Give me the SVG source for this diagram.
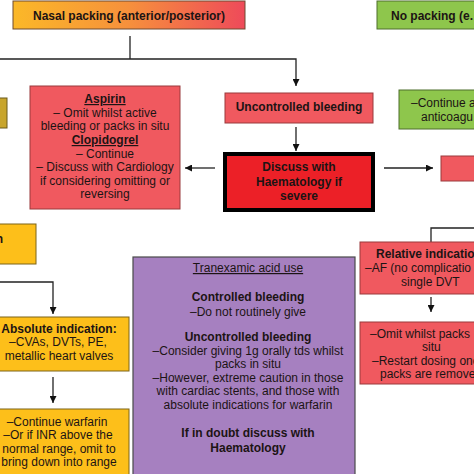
<svg xmlns="http://www.w3.org/2000/svg" width="474" height="474" viewBox="0 0 474 474">
<defs>
<linearGradient id="gNasal" x1="0" y1="0" x2="1" y2="0">
<stop offset="0" stop-color="#fbb828"/>
<stop offset="0.5" stop-color="#f6903c"/>
<stop offset="1" stop-color="#ee4a5a"/>
</linearGradient>
<marker id="ah" viewBox="0 0 10 10" refX="10" refY="5" markerWidth="7" markerHeight="7" markerUnits="userSpaceOnUse" orient="auto">
<path d="M0,0 L10,5 L0,10 z" fill="#111"/>
</marker>
<style>
text{font-family:"Liberation Sans",Arial,sans-serif;font-size:12px;fill:#1c1414}
.b{font-weight:bold}
.u{text-decoration:underline}
.c{text-anchor:middle}
.red{fill:#f0595f;stroke:#9a3a3c;stroke-width:1}
.grn{fill:#8ec64c;stroke:#4f6e2c;stroke-width:1}
.yel{fill:#fdbf1a;stroke:#7d6419;stroke-width:1}
.conn line,.conn polyline{stroke:#222;stroke-width:1.3;fill:none}
</style>
</defs>
<rect width="474" height="474" fill="#fff"/>

<g class="conn" id="connectors">
<line x1="130" y1="36" x2="130" y2="59"/>
<polyline points="0,59 296,59 296,86" marker-end="url(#ah)"/>
<line x1="296" y1="127" x2="296" y2="151" marker-end="url(#ah)"/>
<line x1="215" y1="168" x2="185" y2="168" marker-end="url(#ah)"/>
<line x1="384" y1="168" x2="433" y2="168" marker-end="url(#ah)"/>
<polyline points="0,282 53,282 53,314" marker-end="url(#ah)"/>
<line x1="53" y1="377" x2="53" y2="403" marker-end="url(#ah)"/>
<polyline points="474,228 431,228 431,242"/>
<line x1="431" y1="297" x2="431" y2="312" marker-end="url(#ah)"/>
</g>

<g id="nasal">
<rect x="13" y="1" width="232" height="28" fill="url(#gNasal)" stroke="#6e4a30" stroke-width="1"/>
<text class="b c" x="129" y="19.5">Nasal packing (anterior/posterior)</text>
</g>

<g id="nopacking">
<rect class="grn" x="377" y="1" width="110" height="28"/>
<text class="b" x="391" y="19.5">No packing (e.</text>
</g>

<g id="olive">
<rect x="-5" y="98" width="12" height="30" fill="#c8a52c" stroke="#6b5a1a" stroke-width="1"/>
</g>

<g id="antiplatelet">
<rect class="red" x="30" y="86" width="150" height="123"/>
<text class="b u c" x="105" y="103">Aspirin</text>
<text class="c" x="105" y="116.5">– Omit whilst active</text>
<text class="c" x="105" y="130">bleeding or packs in situ</text>
<text class="b u c" x="105" y="144">Clopidogrel</text>
<text class="c" x="105" y="157.5">– Continue</text>
<text class="c" x="105" y="171">– Discuss with Cardiology</text>
<text class="c" x="105" y="184.5">if considering omitting or</text>
<text class="c" x="105" y="198">reversing</text>
</g>

<g id="uncontrolled">
<rect class="red" x="225" y="93" width="148" height="30"/>
<text class="b c" x="299" y="111">Uncontrolled bleeding</text>
</g>

<g id="discuss">
<rect x="225" y="154" width="148" height="56" fill="#ec2027" stroke="#000" stroke-width="4"/>
<text class="b c" x="299" y="171">Discuss with</text>
<text class="b c" x="299" y="185.5">Haematology if</text>
<text class="b c" x="299" y="199.5">severe</text>
</g>

<g id="continue">
<rect class="grn" x="399" y="90" width="90" height="39"/>
<text x="411" y="106.5">–Continue a</text>
<text x="421" y="120.5">anticoagu</text>
</g>

<g id="redright">
<rect class="red" x="441" y="156" width="50" height="25"/>
</g>

<g id="warfarinhead">
<rect class="yel" x="-5" y="224" width="41" height="40"/>
<text class="b" x="3" y="243" text-anchor="end">n</text>
</g>

<g id="absolute">
<rect class="yel" x="-5" y="317" width="134" height="54"/>
<text class="b c" x="59" y="332.5">Absolute indication:</text>
<text class="c" x="58" y="346">–CVAs, DVTs, PE,</text>
<text class="c" x="59" y="359.5">metallic heart valves</text>
</g>

<g id="continuewarfarin">
<rect class="yel" x="-5" y="409" width="134" height="70"/>
<text class="c" x="57" y="425.5">–Continue  warfarin</text>
<text class="c" x="58" y="439">–Or if INR above the</text>
<text class="c" x="59" y="452.5">normal range, omit to</text>
<text class="c" x="59" y="466">bring down into range</text>
</g>

<g id="tranexamic">
<rect x="133" y="257" width="222" height="220" fill="#a680c0" stroke="#4a4a4a" stroke-width="1.2"/>
<text class="u c" x="248" y="272">Tranexamic acid use</text>
<text class="b c" x="248" y="301">Controlled bleeding</text>
<text class="c" x="248" y="316">–Do not routinely give</text>
<text class="b c" x="248" y="341">Uncontrolled bleeding</text>
<text class="c" x="248" y="355">–Consider giving 1g orally tds whilst</text>
<text class="c" x="248" y="368">packs in situ</text>
<text class="c" x="248" y="381.5">–However, extreme caution in those</text>
<text class="c" x="248" y="395">with cardiac stents, and those with</text>
<text class="c" x="248" y="408.5">absolute indications for warfarin</text>
<text class="b c" x="248" y="437">If in doubt discuss with</text>
<text class="b c" x="248" y="452">Haematology</text>
</g>

<g id="relative">
<rect class="red" x="360" y="242" width="130" height="52"/>
<text class="b" x="376" y="257.5">Relative indicatio</text>
<text x="365" y="272">–AF (no complicatio</text>
<text x="401" y="286">single DVT</text>
</g>

<g id="omit">
<rect class="red" x="360" y="322" width="130" height="62"/>
<text x="370" y="337.5">–Omit whilst packs</text>
<text x="422" y="351">situ</text>
<text x="372" y="364.5">–Restart dosing onc</text>
<text x="380" y="377.5">packs are remove</text>
</g>
</svg>
